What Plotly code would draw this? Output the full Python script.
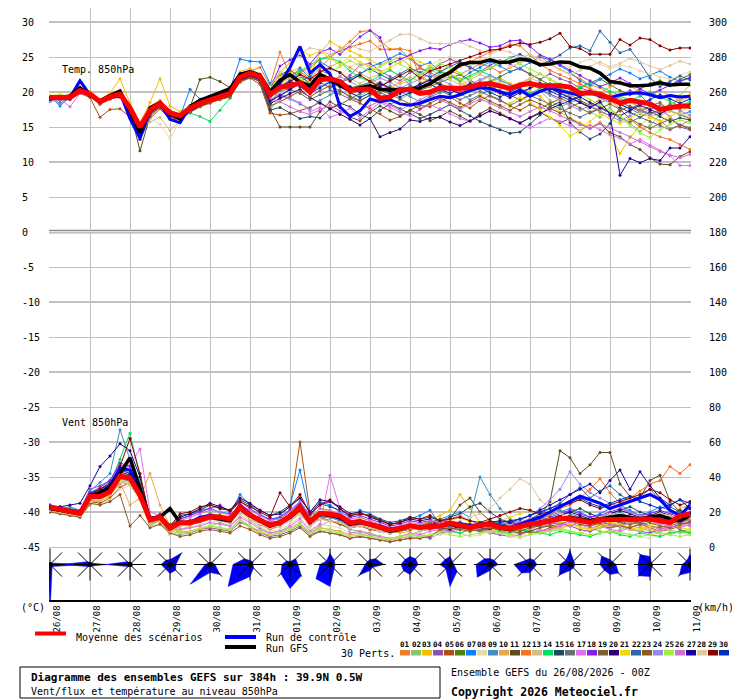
import plotly.graph_objects as go

# --- data -------------------------------------------------------------------
hours = list(range(0, 385, 6))
day_hours = list(range(0, 385, 24))
day_labels = ["26/08", "27/08", "28/08", "29/08", "30/08", "31/08", "01/09", "02/09",
              "03/09", "04/09", "05/09", "06/09", "07/09", "08/09", "09/09", "10/09", "11/09"]

pert_colors = ["#e8802c", "#88c46c", "#f0c000", "#9050b0", "#b05010", "#508010",
               "#1080ff", "#e8d8b0", "#4090c0", "#e8a850", "#604c1c", "#f87020",
               "#d0c080", "#00e060", "#204860", "#687078", "#e070f0", "#8020f0",
               "#806030", "#300070", "#f0d800", "#2868a8", "#905820", "#9888e8",
               "#a0f040", "#d070d0", "#2000a0", "#e0c8a0", "#880000", "#0030c0"]

# temperature 850 hPa (°C), 6-hourly
t_mean = [19.2, 19.2, 19.2, 20.2, 19.7, 18.6, 19.3, 19.7, 17.7, 15.0, 17.4, 18.4, 17.0,
          16.6, 17.7, 18.4, 18.9, 19.3, 19.8, 22.1, 22.7, 22.2, 19.6, 20.7, 20.9, 21.3,
          20.0, 21.8, 21.9, 21.5, 20.2, 20.4, 20.4, 19.1, 19.3, 20.3, 20.4, 19.8, 20.0,
          20.6, 20.5, 20.5, 20.7, 21.1, 21.2, 20.9, 20.5, 21.0, 21.2, 20.9, 20.9, 20.9,
          20.7, 19.8, 19.9, 19.7, 19.1, 18.4, 18.8, 18.6, 18.3, 17.5, 17.8, 18.0, 18.0]
t_ctrl = [19.0, 19.3, 19.2, 21.6, 19.6, 18.5, 19.3, 19.9, 16.2, 13.4, 17.3, 18.3, 16.1,
          15.6, 17.9, 18.8, 19.2, 19.5, 20.1, 22.6, 22.8, 22.4, 20.1, 21.3, 23.5, 26.5,
          22.7, 23.9, 22.6, 17.9, 16.5, 17.3, 19.0, 18.6, 18.9, 18.3, 18.1, 18.4, 18.9,
          19.4, 19.2, 19.6, 20.2, 20.6, 20.5, 20.1, 19.6, 20.3, 19.4, 20.1, 20.6, 20.2,
          19.8, 19.5, 20.1, 19.4, 19.2, 19.6, 19.8, 19.9, 19.6, 19.2, 19.5, 19.3, 19.4]
t_gfs = [19.0, 19.2, 19.4, 20.6, 19.5, 18.7, 19.5, 20.1, 17.3, 14.2, 17.7, 18.5, 16.8,
         16.2, 17.9, 18.8, 19.3, 19.9, 20.5, 22.5, 22.9, 22.4, 20.0, 21.7, 22.5, 21.4,
         20.9, 22.5, 21.8, 21.0, 20.2, 20.6, 20.9, 20.4, 20.3, 20.4, 20.3, 20.6, 21.2,
         22.1, 22.8, 23.9, 24.2, 24.2, 24.6, 24.2, 24.3, 24.7, 24.5, 23.9, 24.0, 24.3,
         24.2, 23.6, 23.4, 22.7, 21.5, 21.3, 20.9, 20.9, 21.0, 21.3, 21.0, 21.1, 21.1]

t01 = [19.0, 19.4, 19.6, 20.5, 19.9, 18.9, 19.8, 20.3, 18.2, 14.8, 17.9, 18.8, 17.3,
       16.9, 18.1, 18.8, 19.2, 19.6, 20.1, 22.6, 23.0, 23.5, 21.0, 25.7, 22.4, 23.0,
       21.8, 23.5, 24.9, 26.0, 27.2, 28.6, 28.8, 27.3, 26.1, 26.2, 25.9, 22.1, 21.6,
       22.4, 23.0, 22.5, 23.3, 24.0, 23.6, 22.8, 23.5, 24.2, 24.9, 25.1, 24.0, 23.2,
       22.6, 21.9, 21.0, 20.6, 19.8, 19.0, 18.7, 17.8, 16.5, 15.9, 14.8, 15.2, 16.0]
t02 = [19.3, 19.0, 19.5, 20.0, 19.6, 18.3, 19.0, 19.5, 17.3, 14.6, 17.0, 18.1, 16.4,
       16.0, 17.4, 18.2, 18.6, 19.2, 19.6, 21.6, 22.4, 21.9, 17.5, 19.2, 20.6, 21.8,
       20.4, 22.0, 21.6, 20.9, 19.8, 19.4, 20.3, 19.5, 18.2, 18.9, 19.8, 20.6, 21.3,
       21.8, 22.6, 21.9, 20.8, 21.5, 22.3, 21.7, 20.4, 20.9, 21.6, 20.2, 18.8, 17.9,
       18.4, 19.0, 17.2, 16.4, 17.8, 16.0, 15.5, 14.4, 15.2, 16.8, 17.6, 19.5, 21.0]
t03 = [19.5, 19.6, 19.4, 20.6, 20.1, 19.0, 19.8, 21.9, 18.4, 15.6, 18.5, 21.9, 18.0,
       17.2, 18.0, 18.7, 19.2, 19.8, 20.3, 22.9, 23.4, 22.5, 20.9, 22.3, 22.8, 23.5,
       22.4, 25.6, 27.2, 26.4, 25.9, 25.2, 24.6, 23.8, 24.5, 24.9, 23.7, 22.0, 21.4,
       22.8, 23.9, 22.6, 21.5, 20.7, 21.4, 22.0, 21.2, 20.6, 20.1, 19.4, 18.0, 17.1,
       16.3, 15.6, 14.9, 15.7, 14.0, 11.2, 13.5, 15.2, 16.4, 17.0, 18.3, 18.9, 19.6]
t04 = [18.9, 19.1, 19.0, 20.4, 19.5, 18.4, 19.1, 19.4, 17.6, 14.2, 16.8, 17.9, 16.8,
       16.2, 17.1, 18.0, 18.6, 19.0, 19.4, 21.8, 22.2, 21.6, 18.2, 20.3, 21.5, 22.6,
       21.0, 23.1, 22.5, 21.3, 22.4, 23.8, 24.1, 23.0, 22.2, 21.6, 22.8, 23.4, 22.7,
       24.0, 24.7, 24.1, 23.6, 22.9, 23.8, 24.5, 24.0, 23.3, 22.5, 21.8, 22.6, 21.9,
       21.4, 20.6, 20.1, 19.2, 18.5, 19.3, 20.2, 19.6, 18.1, 17.6, 16.5, 15.0, 14.6]
t05 = [19.0, 18.8, 18.9, 19.8, 19.2, 16.4, 17.5, 17.6, 16.4, 13.2, 16.2, 17.6, 16.1,
       16.0, 17.2, 17.9, 18.4, 19.0, 19.3, 21.4, 22.0, 21.1, 17.0, 16.7, 16.9, 17.3,
       17.8, 18.5, 17.6, 18.2, 19.0, 18.4, 17.6, 16.9, 16.0, 16.5, 17.4, 18.1, 17.9,
       18.6, 19.3, 18.4, 17.7, 18.8, 19.5, 18.9, 18.0, 17.4, 18.2, 17.6, 18.4, 19.0,
       19.6, 18.8, 18.1, 18.9, 19.4, 18.6, 17.9, 17.2, 18.0, 18.5, 17.3, 16.8, 16.2]
t06 = [19.3, 19.5, 19.3, 20.3, 19.8, 18.8, 19.4, 19.8, 17.9, 15.3, 17.6, 18.6, 17.4,
       16.8, 17.9, 18.6, 19.1, 19.5, 20.0, 22.3, 22.9, 22.4, 20.6, 22.5, 23.1, 22.2,
       21.3, 22.6, 22.0, 21.4, 20.6, 20.9, 21.4, 20.7, 21.6, 22.3, 21.0, 20.2, 20.8,
       21.4, 22.0, 22.5, 21.7, 20.9, 21.5, 22.2, 22.9, 23.4, 22.6, 21.8, 21.0, 20.4,
       19.8, 20.5, 21.3, 21.9, 21.0, 20.2, 19.6, 20.4, 21.2, 21.6, 20.9, 21.8, 22.5]
t07 = [19.4, 18.0, 19.3, 20.1, 19.7, 18.5, 19.2, 19.6, 17.8, 15.1, 17.4, 18.3, 16.9,
       16.5, 20.4, 19.0, 19.4, 19.8, 20.4, 24.7, 24.4, 24.3, 21.2, 22.6, 21.9, 23.4,
       22.0, 24.3, 23.5, 22.8, 21.7, 22.5, 23.6, 24.1, 24.8, 25.5, 24.9, 23.7, 24.2,
       23.0, 22.4, 21.7, 22.8, 23.5, 24.3, 23.7, 22.9, 23.4, 24.2, 25.0, 24.6, 23.8,
       22.9, 21.6, 20.9, 21.8, 22.5, 23.3, 22.7, 21.9, 22.4, 23.0, 22.1, 21.5, 22.0]
t08 = [19.1, 19.3, 19.0, 19.9, 19.4, 18.2, 19.0, 19.2, 17.2, 14.5, 16.2, 15.4, 13.4,
       15.8, 17.6, 18.4, 19.0, 19.4, 19.9, 22.0, 22.5, 22.0, 18.6, 20.1, 21.2, 22.3,
       23.1, 22.5, 21.2, 22.4, 23.6, 24.2, 23.4, 22.6, 23.3, 22.1, 21.5, 22.7, 23.8,
       24.6, 25.1, 24.3, 23.7, 24.5, 25.0, 24.4, 23.6, 24.1, 24.8, 25.3, 24.7, 24.0,
       23.5, 24.2, 24.7, 24.0, 23.3, 23.8, 23.6, 23.0, 22.6, 22.1, 21.8, 22.4, 22.9]
t09 = [19.2, 18.4, 19.1, 20.0, 19.6, 18.5, 19.2, 19.8, 17.5, 14.9, 17.3, 18.2, 16.8,
       16.4, 17.5, 18.3, 18.8, 19.2, 19.7, 21.9, 22.6, 21.7, 18.8, 19.5, 19.0, 18.3,
       17.6, 18.8, 19.6, 20.3, 19.2, 18.7, 19.5, 20.2, 20.9, 20.1, 19.4, 18.6, 19.3,
       19.9, 20.5, 19.8, 18.9, 19.6, 20.3, 21.0, 20.4, 19.7, 20.5, 21.2, 20.6, 19.9,
       19.3, 18.6, 17.9, 18.4, 19.1, 18.3, 17.6, 16.9, 17.5, 18.1, 17.4, 16.7, 17.2]
t10 = [19.3, 19.4, 19.6, 20.4, 19.9, 18.9, 19.5, 19.9, 18.0, 15.4, 17.8, 18.7, 17.3,
       16.8, 17.9, 18.7, 19.2, 19.6, 20.1, 22.4, 23.0, 22.6, 20.1, 21.3, 22.0, 22.9,
       21.7, 22.9, 23.6, 24.3, 23.5, 22.7, 21.9, 21.1, 20.6, 21.4, 22.1, 21.5, 20.8,
       21.6, 22.3, 21.4, 20.6, 21.2, 20.5, 19.7, 20.4, 21.1, 21.9, 22.6, 21.8, 21.0,
       20.3, 21.1, 20.6, 19.9, 20.7, 21.5, 20.8, 20.1, 19.4, 20.2, 19.5, 18.8, 19.3]
t11 = [19.0, 19.2, 19.1, 20.0, 19.5, 18.5, 19.2, 19.4, 17.4, 11.6, 16.5, 17.9, 16.7,
       16.3, 17.8, 21.8, 22.1, 21.5, 20.6, 21.7, 22.1, 21.5, 17.6, 15.0, 15.0, 15.0,
       15.0, 17.2, 18.6, 17.8, 16.4, 15.9, 17.1, 18.0, 17.3, 16.6, 17.4, 16.8, 15.9,
       16.5, 17.3, 16.6, 15.8, 16.9, 17.7, 17.0, 16.2, 15.5, 16.4, 17.1, 16.3, 15.6,
       16.2, 15.4, 14.8, 15.5, 14.2, 13.6, 12.5, 11.8, 10.6, 9.7, 9.6, 10.8, 11.5]
t12 = [19.2, 19.3, 19.1, 20.2, 19.7, 18.6, 19.3, 19.7, 17.6, 14.9, 17.3, 18.3, 16.9,
       16.5, 17.6, 18.3, 18.8, 19.2, 19.7, 22.0, 22.6, 22.0, 19.0, 20.9, 21.7, 22.8,
       23.5, 24.6, 25.3, 25.9, 26.4, 26.9, 27.3, 26.1, 26.1, 26.1, 24.7, 23.5, 22.8,
       22.1, 22.9, 23.6, 24.4, 25.0, 25.7, 26.2, 26.8, 26.6, 25.3, 24.0, 23.1, 22.5,
       21.9, 21.2, 20.4, 19.6, 18.8, 17.6, 16.1, 15.0, 14.2, 13.6, 13.2, 12.5, 11.8]
t13 = [19.1, 19.2, 19.3, 20.1, 19.6, 18.7, 19.3, 19.6, 17.8, 15.3, 15.7, 16.4, 14.5,
       15.9, 17.3, 18.2, 18.7, 19.1, 19.6, 21.7, 22.5, 22.1, 19.4, 20.5, 21.9, 22.6,
       21.5, 22.8, 23.4, 22.7, 21.9, 21.2, 22.0, 22.6, 21.8, 21.1, 21.7, 22.4, 23.1,
       22.6, 21.8, 21.0, 21.7, 22.5, 21.9, 21.2, 20.6, 21.3, 22.0, 21.4, 20.7, 20.1,
       19.6, 20.3, 19.7, 19.0, 18.4, 19.1, 18.5, 17.8, 17.2, 16.6, 17.3, 16.9, 16.4]
t14 = [19.3, 19.4, 19.2, 20.3, 19.7, 18.7, 19.2, 19.6, 17.7, 15.0, 17.2, 18.0, 16.6,
       16.3, 17.0, 16.5, 15.8, 17.4, 19.1, 21.7, 22.3, 22.0, 18.4, 20.4, 21.5, 23.0,
       23.8, 24.7, 24.9, 24.3, 23.0, 22.1, 21.5, 22.4, 23.1, 22.3, 21.6, 22.8, 23.5,
       22.9, 22.2, 21.6, 22.3, 23.0, 22.4, 21.7, 21.0, 20.4, 19.8, 20.5, 21.2, 20.6,
       20.0, 20.7, 21.4, 20.8, 20.1, 19.5, 18.8, 19.4, 20.0, 19.3, 18.6, 18.0, 18.6]
t15 = [19.2, 19.0, 19.2, 20.1, 19.5, 18.3, 19.1, 19.5, 17.4, 14.4, 16.9, 18.0, 16.6,
       16.2, 17.3, 18.1, 18.6, 19.1, 19.5, 21.6, 22.2, 21.5, 17.4, 17.8, 17.0, 16.2,
       16.5, 16.3, 17.6, 18.4, 17.9, 16.8, 16.2, 17.4, 18.3, 17.6, 16.9, 16.2, 16.8,
       17.5, 18.2, 17.4, 16.6, 15.8, 15.2, 14.6, 14.1, 14.3, 15.4, 16.7, 17.9, 18.6,
       15.6, 14.3, 13.3, 14.0, 15.5, 17.8, 17.1, 16.4, 17.2, 16.5, 15.8, 16.3, 16.0]
t16 = [19.1, 19.3, 19.2, 20.2, 19.7, 18.6, 19.3, 19.8, 17.7, 15.1, 17.5, 18.5, 17.1,
       16.7, 17.8, 18.5, 19.0, 19.4, 19.9, 22.2, 22.8, 22.3, 19.2, 20.2, 20.4, 19.8,
       18.9, 19.6, 20.3, 19.7, 19.0, 19.8, 20.5, 19.9, 19.3, 20.1, 20.8, 20.2, 19.5,
       20.2, 19.6, 18.9, 19.5, 20.1, 19.4, 18.7, 18.1, 18.8, 19.5, 18.9, 18.2, 17.6,
       17.0, 16.4, 17.1, 17.7, 17.0, 16.3, 15.7, 16.4, 15.8, 15.2, 14.6, 15.3, 14.9]
t17 = [18.6, 19.0, 17.9, 19.8, 19.4, 18.4, 19.0, 19.3, 17.5, 14.7, 17.1, 18.1, 16.7,
       16.4, 17.4, 18.2, 18.7, 19.1, 19.6, 21.8, 22.4, 21.9, 18.9, 19.7, 19.1, 18.5,
       17.2, 17.8, 16.4, 16.9, 17.7, 16.3, 17.4, 18.5, 17.8, 17.1, 16.6, 17.5, 18.2,
       17.6, 16.9, 16.2, 15.8, 16.5, 17.3, 16.8, 16.1, 15.5, 14.9, 15.6, 16.3, 15.8,
       15.2, 14.5, 15.3, 14.6, 13.9, 13.4, 12.6, 13.2, 12.4, 11.6, 10.9, 9.5, 9.5]
t18 = [19.0, 19.2, 19.0, 20.1, 19.6, 18.5, 19.2, 19.6, 17.5, 14.8, 17.1, 18.1, 16.7,
       16.3, 17.4, 18.2, 18.7, 19.2, 19.7, 21.9, 22.5, 22.0, 20.5, 23.7, 24.6, 25.3,
       24.0, 25.7, 26.2, 25.4, 26.6, 27.9, 28.8, 27.8, 24.0, 24.7, 25.3, 25.9, 26.3,
       26.1, 26.8, 27.2, 27.5, 27.0, 26.4, 26.6, 27.3, 27.4, 26.5, 25.3, 24.7, 23.9,
       23.1, 22.4, 21.6, 20.8, 21.3, 22.0, 21.2, 20.4, 19.7, 20.3, 21.0, 21.6, 22.1]
t19 = [19.2, 19.1, 19.4, 20.0, 19.8, 18.7, 19.4, 19.7, 17.9, 15.2, 17.6, 18.5, 17.0,
       16.6, 17.7, 18.4, 18.9, 19.3, 19.8, 22.0, 22.6, 22.1, 19.8, 21.4, 22.3, 21.6,
       20.4, 21.5, 22.2, 21.6, 20.8, 20.1, 20.7, 21.4, 20.6, 19.9, 20.5, 21.2, 21.8,
       21.2, 20.5, 19.9, 20.6, 21.3, 20.8, 20.2, 19.5, 18.9, 19.6, 20.3, 19.7, 19.1,
       18.5, 17.7, 17.0, 17.6, 18.3, 17.5, 16.2, 15.4, 14.8, 15.5, 16.1, 15.3, 14.7]
t20 = [19.1, 19.2, 19.0, 20.0, 19.5, 18.4, 19.1, 19.5, 17.4, 14.6, 17.0, 18.0, 16.6,
       16.2, 17.2, 18.0, 18.6, 19.0, 19.5, 21.7, 22.3, 21.8, 18.3, 19.1, 19.8, 20.4,
       19.2, 18.4, 17.6, 16.8, 16.1, 15.3, 16.2, 13.6, 14.2, 14.7, 16.0, 15.8, 16.3,
       16.4, 15.7, 15.2, 15.9, 16.6, 17.3, 16.8, 16.2, 15.6, 16.3, 17.0, 17.6, 18.2,
       18.7, 19.3, 18.5, 17.8, 17.1, 16.6, 17.4, 18.1, 17.5, 16.9, 17.6, 18.2, 17.8]
t21 = [19.4, 19.5, 19.3, 20.3, 19.8, 18.7, 19.5, 19.9, 17.9, 15.2, 17.7, 18.6, 17.2,
       16.7, 17.8, 18.6, 19.1, 19.5, 20.0, 22.3, 23.0, 22.4, 20.3, 22.6, 24.2, 26.0,
       25.2, 25.9, 24.8, 23.9, 25.1, 24.3, 23.6, 22.9, 23.5, 24.2, 25.0, 24.3, 23.7,
       23.1, 22.4, 21.9, 20.8, 19.6, 18.5, 17.8, 18.4, 19.2, 18.6, 17.5, 16.4, 15.2,
       13.7, 14.5, 15.8, 16.9, 16.2, 15.5, 16.3, 17.0, 16.4, 15.8, 16.5, 17.2, 17.9]
t22 = [19.2, 19.3, 19.2, 20.2, 19.7, 18.6, 19.3, 19.7, 17.7, 15.0, 17.4, 18.4, 17.0,
       16.6, 17.7, 18.4, 18.9, 19.3, 19.8, 22.1, 22.7, 22.2, 20.2, 21.0, 20.3, 21.5,
       22.2, 21.4, 20.6, 21.3, 22.0, 22.7, 23.3, 22.5, 21.8, 22.6, 23.4, 22.8, 22.1,
       22.9, 23.6, 24.3, 23.5, 22.8, 23.4, 24.1, 24.9, 25.4, 24.6, 23.8, 24.5, 25.3,
       26.3, 26.6, 25.9, 28.7, 27.1, 25.6, 26.1, 24.2, 22.0, 20.8, 21.5, 22.3, 21.7]
t23 = [19.0, 19.1, 19.2, 19.9, 19.4, 18.3, 19.0, 19.4, 17.4, 14.3, 16.8, 17.8, 16.4,
       16.0, 17.1, 17.9, 18.5, 18.9, 19.3, 21.5, 22.1, 21.6, 18.0, 18.6, 19.4, 20.1,
       19.3, 20.2, 20.9, 20.1, 19.4, 18.8, 19.6, 20.3, 19.7, 19.0, 18.3, 17.6, 18.4,
       19.1, 18.5, 17.8, 18.6, 19.4, 18.7, 18.1, 17.4, 18.2, 18.9, 18.3, 17.7, 17.0,
       17.8, 18.5, 17.9, 17.2, 16.6, 17.3, 18.0, 17.4, 16.8, 17.5, 18.2, 17.6, 18.3]
t24 = [19.3, 19.4, 19.2, 20.3, 19.7, 18.7, 19.4, 19.8, 17.8, 15.1, 17.5, 18.4, 17.1,
       16.7, 17.8, 18.5, 19.0, 19.4, 19.9, 22.2, 22.8, 22.3, 19.9, 20.8, 21.4, 20.7,
       20.0, 20.8, 21.5, 22.2, 21.5, 20.7, 21.3, 22.0, 21.4, 20.6, 21.2, 21.9, 22.5,
       21.8, 21.1, 20.4, 21.1, 21.8, 22.4, 21.7, 21.0, 20.3, 19.6, 20.3, 19.5, 18.8,
       18.1, 17.4, 18.1, 17.3, 16.6, 15.9, 16.6, 17.3, 16.7, 17.4, 18.0, 17.3, 16.7]
t25 = [19.2, 19.3, 19.4, 20.1, 19.7, 18.6, 19.3, 19.7, 17.6, 15.0, 17.4, 18.3, 17.0,
       16.5, 17.6, 18.4, 18.9, 19.3, 19.8, 22.0, 22.6, 22.1, 20.4, 21.7, 20.9, 21.8,
       21.1, 22.0, 22.8, 23.6, 24.5, 23.7, 22.9, 23.6, 24.4, 24.0, 23.2, 22.5, 23.3,
       24.1, 23.4, 22.7, 22.0, 22.8, 23.5, 24.2, 24.8, 24.0, 23.3, 22.6, 21.9, 21.2,
       20.5, 19.7, 18.9, 18.1, 17.3, 16.6, 15.2, 14.1, 13.5, 14.6, 15.4, 16.0, 15.6]
t26 = [19.1, 19.0, 19.1, 20.0, 19.5, 18.4, 19.2, 19.5, 17.5, 14.8, 17.2, 18.2, 16.8,
       16.4, 17.5, 18.3, 18.7, 19.1, 19.6, 21.9, 22.5, 21.9, 19.1, 18.6, 17.9, 17.2,
       16.8, 17.5, 18.1, 17.3, 16.7, 17.4, 18.0, 18.7, 18.1, 17.4, 18.2, 18.9, 19.6,
       18.9, 18.3, 17.6, 18.3, 19.0, 18.4, 17.8, 17.1, 16.5, 17.2, 17.9, 17.3, 16.6,
       16.0, 15.4, 14.8, 15.5, 14.9, 14.2, 13.6, 12.9, 12.2, 11.5, 11.0, 10.6, 11.1]
t27 = [19.0, 19.1, 19.3, 20.0, 19.6, 18.5, 19.1, 19.3, 17.6, 13.3, 17.0, 18.2, 16.8,
       16.3, 17.5, 18.3, 18.8, 19.2, 19.7, 21.9, 22.4, 21.8, 18.7, 19.5, 20.4, 21.2,
       20.5, 21.3, 22.1, 21.4, 20.7, 20.0, 20.6, 21.2, 20.5, 19.8, 20.4, 21.1, 21.7,
       21.0, 20.3, 19.7, 20.4, 21.1, 20.5, 19.9, 19.2, 19.9, 20.6, 21.2, 20.5, 19.8,
       19.1, 18.5, 17.8, 18.6, 16.8, 8.1, 10.5, 9.9, 10.5, 10.2, 12.0, 12.0, 13.6]
t28 = [19.2, 19.4, 19.3, 20.2, 19.8, 18.8, 19.4, 19.8, 17.8, 15.2, 17.6, 18.5, 17.1,
       16.7, 17.8, 18.5, 19.0, 19.5, 20.0, 22.3, 22.9, 22.4, 20.8, 22.9, 24.2, 25.5,
       26.3, 26.0, 25.3, 26.1, 26.7, 26.1, 25.8, 26.6, 27.4, 28.2, 28.3, 27.6, 27.0,
       26.9, 26.9, 27.1, 26.5, 25.9, 25.4, 26.0, 25.7, 24.9, 25.4, 24.6, 23.9, 23.2,
       22.5, 23.1, 23.7, 24.3, 23.6, 24.1, 24.8, 24.3, 23.7, 23.2, 23.8, 24.4, 24.0]
t29 = [19.1, 19.2, 19.1, 20.1, 19.6, 18.5, 19.2, 19.6, 17.6, 14.9, 17.3, 18.3, 16.9,
       16.5, 17.6, 18.4, 18.9, 19.3, 19.8, 22.0, 22.6, 22.2, 19.9, 20.6, 21.4, 22.5,
       21.8, 22.9, 23.4, 22.8, 21.6, 22.4, 21.5, 20.8, 21.6, 22.3, 23.1, 22.0, 23.0,
       23.5, 24.0, 24.5, 25.0, 25.5, 26.0, 26.1, 26.5, 27.0, 26.8, 27.1, 27.6, 28.4,
       26.5, 26.2, 25.4, 25.4, 25.4, 27.5, 26.7, 27.7, 27.5, 26.6, 26.0, 26.3, 26.3]
t30 = [19.2, 19.3, 19.2, 20.2, 19.7, 18.6, 19.3, 20.0, 17.8, 15.0, 17.4, 18.3, 16.9,
       16.5, 17.6, 18.3, 18.8, 19.2, 19.7, 22.0, 22.6, 22.0, 19.5, 20.7, 21.6, 20.8,
       19.8, 20.6, 21.4, 20.7, 19.9, 19.2, 19.9, 20.6, 20.0, 19.3, 19.9, 20.5, 21.1,
       20.4, 19.8, 20.5, 21.2, 20.6, 19.9, 19.3, 20.0, 20.7, 21.4, 20.8, 20.1, 19.4,
       18.8, 19.5, 20.1, 19.5, 18.8, 18.2, 17.6, 18.3, 18.9, 19.6, 19.0, 18.4, 19.0]

# wind 850 hPa (km/h), 6-hourly
w_mean = [22.7, 21.5, 20.6, 19.2, 28.8, 28.8, 31.6, 40.6, 39.2, 29.7, 15.4, 17.0, 10.7,
          13.9, 13.9, 15.8, 17.3, 17.0, 16.0, 22.7, 18.3, 15.4, 12.6, 13.9, 17.7, 22.7,
          14.5, 19.2, 18.9, 17.7, 13.9, 14.5, 13.1, 11.7, 9.8, 10.6, 12.1, 11.2, 11.7,
          12.0, 13.7, 12.5, 11.2, 12.5, 13.1, 11.2, 10.6, 11.7, 13.1, 13.7, 15.0, 16.3,
          16.3, 15.0, 14.0, 15.6, 15.6, 16.0, 15.6, 16.0, 16.0, 15.0, 14.0, 17.9, 18.8]
w_ctrl = [22, 21, 21, 20, 30, 31, 35, 45, 44, 33, 16, 17, 11,
          14, 14, 17, 18, 17, 16, 24, 19, 15, 12, 14, 18, 24,
          15, 19, 19, 18, 14, 15, 13, 12, 10, 11, 12, 11, 12,
          12, 14, 13, 12, 13, 14, 12, 11, 13, 15, 17, 20, 23,
          26, 29, 27, 25, 22, 24, 26, 28, 30, 27, 21, 18, 24]
w_gfs = [22, 21, 20, 19, 29, 31, 34, 42, 51, 33, 16, 17, 22,
         14, 14, 16, 17, 16, 15, 22, 18, 15, 12, 14, 17, 22,
         14, 19, 18, 17, 13, 14, 13, 11, 9, 10, 12, 11, 12,
         12, 13, 12, 11, 12, 13, 11, 10, 12, 13, 14, 15, 16,
         17, 16, 15, 16, 17, 18, 17, 16, 17, 18, 16, 15, 18]

w01 = [21, 19, 18, 17, 24, 27, 30, 36, 41, 33, 14, 16, 9,
       12, 14, 16, 18, 15, 14, 20, 17, 13, 10, 12, 16, 20,
       13, 17, 18, 16, 12, 14, 12, 10, 8, 9, 11, 10, 12,
       10, 12, 11, 9, 11, 12, 10, 9, 10, 12, 13, 14, 15,
       17, 15, 13, 14, 16, 17, 15, 14, 16, 17, 15, 13, 16]
w02 = [23, 22, 21, 20, 30, 31, 35, 43, 47, 38, 12, 15, 8,
       7, 8, 10, 12, 14, 12, 18, 15, 11, 8, 9, 11, 14,
       8, 12, 15, 13, 10, 9, 8, 6, 5, 6, 7, 9, 10,
       12, 10, 8, 10, 12, 15, 13, 11, 9, 11, 14, 16, 18,
       15, 13, 11, 9, 8, 10, 12, 11, 9, 8, 7, 9, 10]
w03 = [22, 20, 21, 19, 27, 26, 29, 38, 44, 35, 18, 14, 7,
       10, 12, 15, 17, 19, 21, 25, 19, 14, 11, 16, 20, 25,
       16, 22, 20, 18, 13, 17, 15, 12, 10, 8, 9, 12, 15,
       18, 21, 30, 22, 14, 12, 9, 7, 8, 10, 13, 12, 11,
       9, 8, 10, 12, 14, 13, 11, 9, 12, 15, 18, 22, 24]
w04 = [24, 23, 22, 21, 33, 35, 38, 47, 44, 36, 17, 18, 12,
       8, 9, 10, 11, 10, 9, 14, 12, 8, 6, 7, 9, 12,
       7, 9, 8, 7, 5, 6, 5, 4, 3, 4, 5, 6, 5,
       8, 9, 11, 10, 9, 8, 7, 6, 7, 9, 11, 13, 14,
       12, 10, 9, 11, 13, 12, 10, 9, 8, 10, 12, 14, 13]
w05 = [21, 20, 19, 18, 26, 25, 28, 34, 37, 30, 16, 19, 13,
       15, 13, 14, 16, 18, 16, 21, 18, 15, 13, 15, 22, 60,
       20, 17, 15, 13, 11, 12, 10, 9, 8, 10, 12, 11, 13,
       15, 14, 12, 10, 9, 11, 13, 12, 10, 8, 9, 11, 12,
       14, 16, 15, 13, 11, 12, 14, 13, 11, 9, 10, 12, 15]
w06 = [22, 21, 20, 19, 29, 30, 33, 41, 36, 27, 13, 16, 10,
       13, 14, 17, 19, 18, 17, 23, 19, 16, 14, 15, 18, 21,
       15, 19, 17, 15, 12, 13, 14, 12, 10, 11, 13, 12, 10,
       11, 13, 14, 12, 10, 11, 13, 14, 12, 11, 13, 15, 17,
       18, 16, 14, 12, 11, 13, 15, 14, 12, 11, 13, 10, 8]
w07 = [23, 21, 22, 20, 31, 33, 36, 45, 42, 31, 14, 15, 9,
       16, 18, 21, 22, 20, 19, 30, 24, 19, 15, 17, 24, 44,
       18, 26, 24, 20, 17, 21, 19, 16, 13, 14, 16, 18, 21,
       13, 11, 10, 12, 14, 13, 11, 10, 12, 14, 16, 18, 20,
       22, 20, 17, 19, 22, 24, 21, 18, 20, 23, 21, 19, 22]
w08 = [20, 19, 18, 17, 25, 24, 27, 33, 35, 27, 12, 13, 7,
       9, 11, 13, 14, 15, 13, 18, 15, 12, 9, 10, 13, 17,
       10, 13, 12, 11, 8, 9, 7, 6, 4, 5, 7, 8, 6,
       7, 9, 8, 6, 7, 9, 8, 6, 5, 7, 8, 9, 10,
       9, 7, 6, 8, 10, 9, 7, 6, 5, 7, 9, 8, 7]
w09 = [22, 22, 23, 21, 32, 37, 42, 67, 50, 34, 16, 18, 11,
       14, 15, 17, 18, 17, 16, 22, 18, 15, 13, 14, 17, 21,
       14, 19, 18, 16, 13, 15, 13, 12, 10, 11, 13, 12, 14,
       16, 18, 20, 17, 40, 30, 22, 16, 13, 15, 17, 19, 21,
       19, 17, 15, 16, 18, 20, 17, 15, 16, 18, 16, 14, 17]
w10 = [21, 20, 19, 18, 27, 28, 30, 37, 24, 28, 42, 24, 12,
       9, 8, 10, 12, 11, 10, 15, 11, 8, 7, 8, 10, 13,
       8, 11, 10, 9, 7, 8, 6, 5, 4, 5, 6, 7, 6,
       9, 11, 13, 12, 10, 9, 10, 12, 11, 9, 8, 10, 11,
       12, 14, 13, 11, 12, 14, 13, 12, 10, 9, 11, 13, 12]
w11 = [23, 22, 21, 19, 30, 32, 34, 42, 40, 31, 15, 16, 10,
       13, 14, 16, 18, 17, 16, 22, 18, 15, 13, 14, 17, 22,
       14, 18, 18, 17, 13, 14, 12, 10, 9, 10, 12, 11, 13,
       14, 16, 24, 28, 20, 15, 13, 12, 14, 16, 18, 26, 55,
       51, 42, 47, 54, 54, 36, 29, 28, 38, 41, 26, 20, 18]
w12 = [22, 21, 20, 19, 28, 29, 32, 40, 38, 28, 14, 17, 10,
       13, 14, 16, 17, 16, 15, 21, 17, 14, 12, 13, 16, 20,
       13, 17, 17, 16, 12, 13, 12, 10, 9, 10, 11, 12, 13,
       11, 12, 13, 11, 10, 12, 14, 13, 12, 14, 16, 18, 22,
       24, 28, 33, 39, 31, 25, 28, 32, 36, 38, 46, 42, 47]
w13 = [21, 20, 20, 18, 26, 27, 31, 39, 37, 29, 13, 15, 9,
       8, 9, 10, 12, 11, 10, 16, 12, 9, 7, 8, 11, 14,
       7, 11, 10, 8, 6, 7, 6, 5, 4, 5, 6, 5, 7,
       9, 8, 10, 11, 9, 8, 9, 10, 11, 12, 10, 9, 11,
       13, 12, 10, 11, 13, 12, 10, 9, 11, 12, 10, 8, 9]
w14 = [22, 21, 22, 20, 30, 32, 36, 50, 65, 40, 15, 17, 11,
       14, 15, 17, 18, 17, 16, 23, 19, 15, 12, 14, 17, 21,
       14, 18, 17, 15, 12, 14, 12, 10, 8, 9, 11, 10, 12,
       10, 9, 8, 10, 12, 11, 9, 8, 10, 9, 8, 7, 9,
       8, 7, 6, 8, 9, 7, 6, 8, 7, 6, 8, 9, 8]
w15 = [23, 22, 21, 20, 31, 33, 37, 44, 42, 33, 16, 17, 11,
       18, 19, 21, 24, 22, 21, 27, 24, 21, 18, 20, 24, 28,
       20, 25, 23, 21, 18, 19, 18, 16, 14, 15, 17, 16, 17,
       15, 17, 19, 23, 25, 20, 16, 14, 13, 15, 17, 16, 18,
       20, 22, 19, 17, 19, 21, 23, 20, 18, 16, 18, 21, 19]
w16 = [22, 21, 20, 19, 28, 28, 31, 39, 38, 29, 15, 16, 10,
       13, 13, 15, 16, 16, 15, 21, 17, 14, 12, 13, 16, 21,
       13, 17, 17, 15, 12, 13, 12, 10, 9, 10, 11, 10, 12,
       11, 12, 11, 10, 11, 12, 11, 10, 11, 12, 13, 14, 15,
       16, 14, 13, 14, 15, 16, 15, 14, 15, 16, 15, 14, 16]
w17 = [22, 21, 20, 18, 27, 29, 34, 42, 47, 56, 20, 18, 11,
       10, 11, 12, 14, 13, 12, 17, 14, 10, 8, 9, 12, 16,
       9, 13, 41, 22, 8, 9, 7, 6, 5, 6, 8, 7, 9,
       10, 9, 11, 12, 10, 9, 8, 10, 12, 11, 9, 10, 12,
       14, 13, 11, 12, 10, 9, 11, 13, 12, 10, 11, 13, 12]
w18 = [24, 22, 21, 20, 31, 34, 38, 48, 46, 35, 16, 17, 10,
       16, 18, 20, 22, 24, 20, 26, 22, 18, 16, 17, 21, 26,
       18, 24, 26, 22, 17, 18, 16, 14, 12, 13, 15, 14, 15,
       13, 14, 12, 11, 12, 13, 12, 11, 13, 14, 15, 17, 19,
       21, 19, 17, 18, 20, 22, 20, 18, 19, 21, 19, 17, 20]
w19 = [21, 20, 19, 18, 26, 27, 30, 37, 36, 28, 14, 15, 9,
       12, 13, 15, 16, 15, 14, 20, 16, 13, 11, 12, 15, 19,
       12, 16, 15, 14, 11, 12, 11, 9, 8, 9, 10, 12, 14,
       16, 14, 12, 10, 9, 11, 12, 10, 9, 11, 12, 14, 15,
       17, 15, 14, 16, 15, 14, 13, 15, 16, 14, 13, 15, 16]
w20 = [23, 21, 20, 19, 29, 31, 35, 43, 41, 32, 15, 16, 10,
       17, 19, 22, 25, 23, 21, 28, 25, 21, 18, 19, 23, 28,
       20, 27, 26, 23, 19, 20, 17, 15, 13, 14, 16, 15, 16,
       11, 10, 12, 13, 11, 10, 12, 14, 13, 12, 14, 16, 18,
       20, 18, 16, 17, 19, 21, 19, 17, 18, 20, 18, 16, 19]
w21 = [22, 21, 21, 19, 28, 29, 32, 39, 39, 30, 15, 17, 11,
       14, 14, 16, 18, 17, 16, 22, 18, 15, 12, 14, 17, 22,
       14, 18, 18, 17, 13, 14, 13, 11, 9, 10, 12, 11, 12,
       12, 15, 17, 14, 12, 13, 15, 17, 19, 21, 18, 16, 14,
       13, 11, 10, 12, 14, 13, 11, 10, 12, 14, 13, 11, 10]
w22 = [22, 21, 20, 19, 29, 30, 33, 41, 40, 30, 15, 17, 11,
       14, 14, 16, 17, 17, 16, 22, 18, 15, 12, 13, 17, 22,
       14, 18, 18, 16, 13, 14, 12, 11, 9, 10, 12, 11, 12,
       12, 13, 12, 11, 12, 14, 13, 12, 14, 16, 19, 22, 25,
       30, 34, 28, 32, 35, 30, 26, 29, 33, 27, 23, 20, 18]
w23 = [20, 19, 18, 17, 25, 24, 26, 30, 12, 18, 11, 13, 8,
       6, 7, 9, 10, 9, 8, 12, 10, 7, 5, 6, 8, 11,
       6, 9, 8, 7, 5, 6, 5, 4, 3, 4, 5, 5, 6,
       10, 11, 10, 9, 10, 11, 10, 9, 8, 9, 11, 12, 13,
       15, 13, 12, 14, 13, 12, 11, 13, 14, 12, 11, 13, 14]
w24 = [22, 21, 20, 19, 28, 29, 32, 39, 38, 29, 15, 16, 10,
       13, 13, 15, 17, 16, 15, 21, 17, 14, 12, 13, 16, 21,
       13, 17, 17, 15, 12, 13, 12, 10, 9, 10, 11, 10, 12,
       11, 12, 13, 12, 11, 12, 14, 13, 15, 18, 22, 27, 33,
       43, 36, 31, 28, 25, 23, 20, 18, 17, 19, 21, 18, 16]
w25 = [21, 20, 20, 18, 27, 28, 31, 38, 37, 29, 14, 16, 10,
       9, 9, 11, 12, 11, 10, 15, 12, 9, 7, 8, 10, 13,
       8, 10, 9, 8, 6, 7, 6, 5, 5, 6, 7, 6, 7,
       8, 7, 6, 7, 8, 9, 8, 7, 6, 7, 8, 9, 10,
       9, 8, 7, 8, 9, 8, 7, 6, 7, 8, 7, 6, 7]
w26 = [21, 22, 20, 18, 27, 29, 33, 41, 40, 31, 15, 17, 10,
       15, 17, 19, 21, 20, 18, 24, 21, 18, 15, 16, 20, 26,
       17, 22, 21, 19, 16, 17, 15, 13, 11, 12, 14, 13, 15,
       14, 16, 18, 15, 13, 12, 11, 12, 14, 16, 17, 15, 13,
       12, 14, 16, 15, 13, 12, 14, 16, 15, 13, 12, 11, 13]
w27 = [22, 23, 24, 25, 35, 46, 52, 59, 55, 40, 17, 18, 12,
       14, 15, 17, 18, 17, 16, 22, 18, 15, 13, 14, 17, 22,
       14, 18, 18, 16, 13, 14, 13, 11, 9, 10, 12, 11, 12,
       13, 14, 13, 12, 13, 14, 15, 14, 16, 18, 21, 24, 27,
       30, 33, 36, 31, 38, 44, 33, 43, 35, 28, 24, 27, 22]
w28 = [21, 20, 19, 18, 26, 27, 30, 37, 36, 28, 14, 15, 9,
       12, 13, 15, 16, 15, 14, 20, 16, 13, 11, 12, 15, 19,
       12, 16, 15, 14, 11, 12, 11, 9, 8, 9, 11, 10, 12,
       13, 14, 15, 17, 19, 22, 28, 33, 39, 36, 27, 22, 19,
       17, 16, 15, 17, 19, 18, 16, 15, 17, 19, 18, 16, 17]
w29 = [23, 22, 21, 20, 30, 33, 36, 46, 62, 42, 16, 18, 12,
       19, 20, 23, 24, 22, 21, 26, 23, 20, 17, 31, 23, 30,
       19, 24, 27, 22, 18, 19, 18, 15, 13, 14, 17, 16, 18,
       15, 16, 17, 15, 14, 16, 18, 20, 22, 21, 19, 20, 23,
       25, 27, 24, 22, 24, 26, 28, 30, 33, 31, 27, 24, 26]
w30 = [22, 21, 20, 19, 28, 29, 32, 40, 39, 30, 15, 17, 11,
       14, 14, 16, 17, 17, 16, 22, 18, 15, 12, 13, 17, 22,
       14, 18, 18, 16, 13, 14, 13, 11, 9, 10, 12, 11, 12,
       12, 13, 14, 13, 12, 13, 14, 15, 16, 18, 20, 22, 24,
       26, 28, 25, 23, 25, 27, 29, 26, 24, 22, 24, 27, 25]

# daily wind roses: relative frequency per sector N, NE, E, SE, S, SW, W, NW
rose_sectors = [[1, 2, 35, 3, 50, 2, 2, 1], [2, 2, 16, 3, 2, 3, 28, 4],
                [2, 2, 3, 2, 2, 3, 25, 4], [5, 16, 6, 8, 9, 6, 9, 6],
                [2, 3, 5, 14, 8, 28, 5, 2], [4, 4, 3, 5, 12, 31, 17, 8],
                [3, 8, 8, 16, 24, 13, 8, 5], [11, 6, 5, 6, 22, 20, 10, 5],
                [5, 8, 14, 4, 6, 15, 5, 4], [8, 8, 8, 6, 10, 9, 9, 7],
                [8, 4, 4, 10, 22, 6, 10, 7], [6, 6, 8, 4, 6, 18, 14, 8],
                [6, 6, 7, 5, 8, 12, 16, 6], [14, 5, 5, 5, 6, 15, 10, 6],
                [5, 4, 6, 12, 10, 8, 10, 12], [8, 2, 3, 3, 12, 16, 12, 14],
                [10, 5, 4, 4, 8, 15, 8, 5]]

temp_members = [t01, t02, t03, t04, t05, t06, t07, t08, t09, t10, t11, t12, t13, t14, t15,
                t16, t17, t18, t19, t20, t21, t22, t23, t24, t25, t26, t27, t28, t29, t30]
wind_members = [w01, w02, w03, w04, w05, w06, w07, w08, w09, w10, w11, w12, w13, w14, w15,
                w16, w17, w18, w19, w20, w21, w22, w23, w24, w25, w26, w27, w28, w29, w30]
for s in temp_members + wind_members + [t_mean, t_ctrl, t_gfs, w_mean, w_ctrl, w_gfs]:
    assert len(s) == len(hours), len(s)

# --- geometry: positions below are page pixels of the 740x700 picture ---------
# the page body adds an 8 px offset, so the figure itself is 8 px smaller
MONO = "DejaVu Sans Mono"
OFF = 8
W, H = 740 - OFF, 700 - OFF
PW, PH = 642, 592                # plot area: page x 49..691, y 8..600
ML, MT = 49 - OFF, 0
MR, MB = W - ML - PW, H - MT - PH
H_PER_PX = 0.6                   # 40 px per day
DEG_PX = 7.0                     # 7 px per °C
T_TOP = 30 + (22 - OFF) / DEG_PX  # 30 °C line sits at page y = 22
T_BOT = T_TOP - PH / DEG_PX
ROSE_Y = T_TOP - (564.5 - OFF) / DEG_PX
GRID = "#c0c0c0"


def paper(x, y):
    return (x - OFF - ML) / PW, (MT + PH - (y - OFF)) / PH


def text_at(x, y, text, size=10, bold=False, anchor="left"):
    xp, yp = paper(x, y)
    return dict(x=xp, y=yp, xref="paper", yref="paper", showarrow=False,
                text=f"<b>{text}</b>" if bold else text, xanchor=anchor, yanchor="middle",
                font=dict(family=MONO, size=size, color="black"))


fig = go.Figure()


def series(vals, color, width, axis, markers=True):
    fig.add_trace(go.Scatter(x=hours, y=vals, yaxis=axis, mode="lines+markers" if markers else "lines",
                             line=dict(color=color, width=width),
                             marker=dict(color=color, size=3), hoverinfo="skip"))


for vals, col in zip(temp_members, pert_colors):
    series(vals, col, 1, "y")
series(t_ctrl, "#0000ff", 3, "y", False)
series(t_gfs, "#000000", 3.5, "y", False)
series(t_mean, "#ff0000", 5, "y", False)

for vals, col in zip(wind_members, pert_colors):
    series(vals, col, 1, "y2")
series(w_ctrl, "#0000ff", 3, "y2", False)
series(w_gfs, "#000000", 3.5, "y2", False)
series(w_mean, "#ff0000", 5, "y2", False)

# wind roses
dirs = [(0, 1), (0.7071, 0.7071), (1, 0), (0.7071, -0.7071),
        (0, -1), (-0.7071, -0.7071), (-1, 0), (-0.7071, 0.7071)]
star_x, star_y = [], []
for h, radii in zip(day_hours, rose_sectors):
    px_ = [h + r * dx * H_PER_PX for r, (dx, dy) in zip(radii, dirs)]
    py_ = [ROSE_Y + r * dy / DEG_PX for r, (dx, dy) in zip(radii, dirs)]
    fig.add_trace(go.Scatter(x=px_ + px_[:1], y=py_ + py_[:1], mode="lines", fill="toself",
                             fillcolor="#0000ff", line=dict(color="#0000ff", width=0.5),
                             hoverinfo="skip"))
    for (dx, dy), arm in zip(dirs[:4], (16, 17, 16, 17)):
        star_x += [h - arm * dx * H_PER_PX, h + arm * dx * H_PER_PX, None]
        star_y += [ROSE_Y - arm * dy / DEG_PX, ROSE_Y + arm * dy / DEG_PX, None]
fig.add_trace(go.Scatter(x=star_x, y=star_y, mode="lines", line=dict(color="black", width=1),
                         hoverinfo="skip"))
fig.add_trace(go.Scatter(x=day_hours, y=[ROSE_Y] * len(day_hours), mode="markers",
                         marker=dict(color="black", size=5), hoverinfo="skip"))

# heavier grid every 10 °C, double line at 0
shapes = []
for v in range(-40, 31, 10):
    if v == 0:
        continue
    shapes.append(dict(type="line", xref="paper", x0=0, x1=1, yref="y", y0=v, y1=v,
                       line=dict(color=GRID, width=2), layer="between"))
shapes.append(dict(type="line", xref="paper", x0=0, x1=1, yref="y", y0=0.2, y1=0.2,
                   line=dict(color="#8c8c8c", width=1.5), layer="between"))
shapes.append(dict(type="line", xref="paper", x0=0, x1=1, yref="y", y0=-0.1, y1=-0.1,
                   line=dict(color="#b0b0b0", width=1.5), layer="between"))

annotations = []
for v in range(-45, 31, 5):
    xp, _ = paper(20, 0)
    annotations.append(dict(x=xp, y=v, xref="paper", yref="y", text=str(v), showarrow=False,
                            xanchor="left", yanchor="middle",
                            font=dict(family=MONO, size=10, color="black")))
annotations += [
    text_at(60, 69, "Temp. 850hPa"),
    text_at(60, 422, "Vent 850hPa"),
    text_at(19, 607, "(°C)"),
    text_at(696, 607, "(km/h)"),
    text_at(74, 637, "Moyenne des scénarios"),
    text_at(264, 637, "Run de contrôle"),
    text_at(264, 648, "Run GFS"),
    text_at(339, 653, "30 Perts."),
    text_at(29, 677, "Diagramme des ensembles GEFS sur 384h : 39.9N 0.5W", 11, True),
    text_at(29, 691, "Vent/flux et température au niveau 850hPa"),
    text_at(449, 672, "Ensemble GEFS du 26/08/2026 - 00Z"),
    text_at(449, 692, "Copyright 2026 Meteociel.fr", 11.5, True),
]


def bar(x0, x1, y, color):
    a, b = paper(x0, y)
    c, _ = paper(x1, y)
    return dict(type="line", xref="paper", yref="paper", x0=a, x1=c, y0=b, y1=b,
                line=dict(color=color, width=4))


shapes += [bar(35, 66, 633.5, "#ff0000"), bar(225, 256, 637, "#0000ff"), bar(225, 256, 647, "#000000")]

for k, col in enumerate(pert_colors):
    x0 = 400 + 11 * k
    a, b = paper(x0, 650)
    c, d = paper(x0 + 10, 655.5)
    shapes.append(dict(type="rect", xref="paper", yref="paper", x0=a, x1=c, y0=d, y1=b,
                       fillcolor=col, line=dict(width=0)))
    annotations.append(text_at(x0 + 5, 644, f"{k + 1:02d}", 7.5, True, "center"))

a, b = paper(20, 667)
c, d = paper(440, 698)
shapes.append(dict(type="rect", xref="paper", yref="paper", x0=a, x1=c, y0=d, y1=b,
                   line=dict(color="black", width=1)))

fig.update_layout(
    template="none",
    width=W, height=H,
    margin=dict(l=ML, r=MR, t=MT, b=MB, pad=0),
    paper_bgcolor="white", plot_bgcolor="white",
    showlegend=False,
    font=dict(family=MONO, size=10, color="black"),
    xaxis=dict(range=[-0.6, 384.6], tickvals=day_hours, ticktext=day_labels, tickangle=-90,
               ticks="", ticklabelshift=7, ticklabelstandoff=0, showgrid=True, gridcolor=GRID,
               gridwidth=1, zeroline=False, showline=True, linecolor="black", linewidth=1.5,
               automargin=False, tickfont=dict(family=MONO, size=9)),
    yaxis=dict(range=[T_BOT, T_TOP], tickvals=list(range(-45, 31, 5)), showticklabels=False,
               ticks="", showgrid=True, gridcolor=GRID, gridwidth=1, zeroline=False,
               showline=False, automargin=False),
    yaxis2=dict(range=[(T_BOT + 45) * 4, (T_TOP + 45) * 4], overlaying="y", side="right",
                tickvals=list(range(0, 301, 20)), ticks="", ticklabelstandoff=17,
                showgrid=False, zeroline=False, showline=False, automargin=False,
                tickfont=dict(family=MONO, size=10)),
    shapes=shapes,
    annotations=annotations,
)

fig.write_html("out.html")
